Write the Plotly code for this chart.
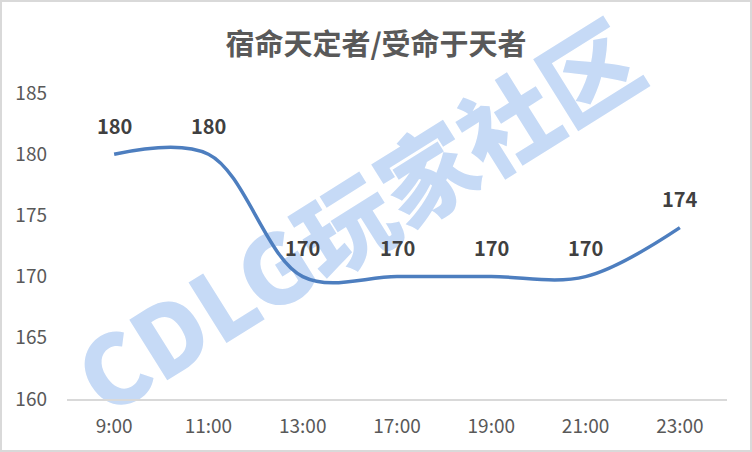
import plotly.graph_objects as go

categories = ["9:00", "11:00", "13:00", "17:00", "19:00", "21:00", "23:00"]
values = [180, 180, 170, 170, 170, 170, 174]
y_ticks = [160, 165, 170, 175, 180, 185]
title_text = "宿命天定者/受命于天者"
watermark_text = "CDLG玩家社区"

FONT = "Noto Sans CJK SC, Microsoft YaHei, sans-serif"

fig = go.Figure()
fig.add_trace(go.Scatter(
    x=categories, y=values, mode="lines",
    line=dict(color="#4d7ebf", width=3.5, shape="spline", smoothing=1),
    hoverinfo="skip", showlegend=False,
))

for c, v in zip(categories, values):
    fig.add_annotation(x=c, y=v, text=str(v), showarrow=False, yshift=29,
                       font=dict(family=FONT, size=20, color="#404040", weight="bold"))

# watermark (below traces)
fig.add_shape(type="rect", xref="paper", yref="paper",
              x0=-0.1, x1=1.0, y0=-0.17, y1=1.30,
              line=dict(width=0), fillcolor="rgba(0,0,0,0)", layer="below",
              label=dict(text=watermark_text, textangle=-32, textposition="middle center",
                         font=dict(family=FONT, size=96, color="#c6daf6", weight=900)))

# outer border
fig.add_shape(type="rect", xref="paper", yref="paper",
              x0=-0.1, x1=1.0364, y0=-0.1699, y1=1.3007,
              line=dict(color="#d9d9d9", width=2), fillcolor="rgba(0,0,0,0)", layer="above")

fig.update_layout(
    width=752, height=452,
    margin=dict(l=67, r=25, t=93, b=53),
    paper_bgcolor="white", plot_bgcolor="white",
    title=dict(text=title_text, x=0.5, xref="container", xanchor="center", y=0.9, yref="container",
               yanchor="middle",
               font=dict(family=FONT, size=29, color="#595959", weight="bold")),
    xaxis=dict(type="category", showgrid=False, showline=True, linecolor="#d9d9d9", linewidth=1.5,
               ticks="", zeroline=False, range=[-0.5, len(categories) - 0.5],
               tickfont=dict(family=FONT, size=19, color="#595959"), ticklabelstandoff=9),
    yaxis=dict(range=[160, 185], tickvals=y_ticks, showgrid=False, showline=False, zeroline=False,
               ticks="", tickfont=dict(family=FONT, size=19, color="#595959"), ticklabelstandoff=19),
)

fig.write_html("out.html", config={"displayModeBar": False},
               post_script="document.body.style.margin='0';")
